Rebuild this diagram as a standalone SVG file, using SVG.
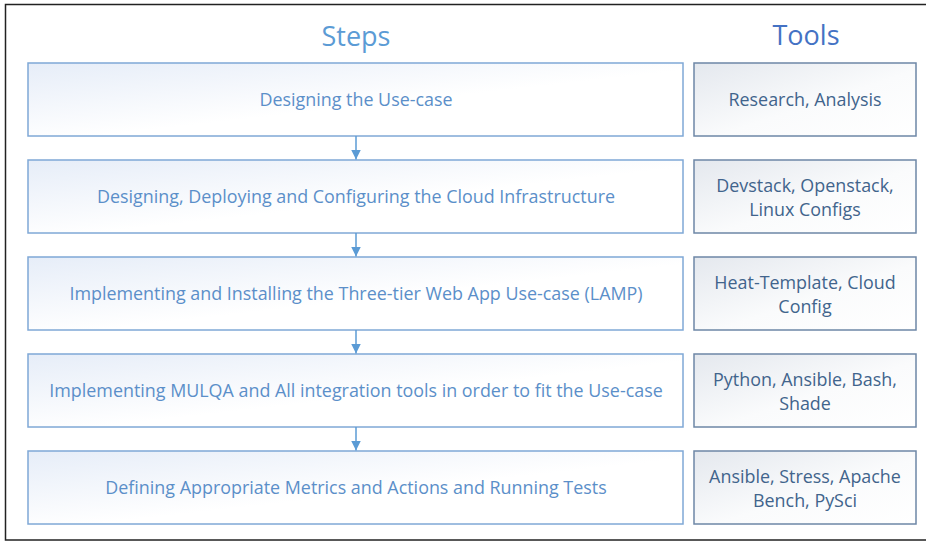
<svg xmlns="http://www.w3.org/2000/svg" width="926" height="542" viewBox="0 0 926 542">
<defs>
<linearGradient id="gStep" x1="0" y1="0" x2="1" y2="1">
<stop offset="0" stop-color="#e6edf8"/>
<stop offset="0.55" stop-color="#ffffff"/>
<stop offset="1" stop-color="#ffffff"/>
</linearGradient>
<linearGradient id="gTool" x1="0" y1="0" x2="1" y2="1">
<stop offset="0" stop-color="#e4e8ee"/>
<stop offset="0.55" stop-color="#fafbfc"/>
<stop offset="1" stop-color="#ffffff"/>
</linearGradient>
<marker id="arr" viewBox="0 0 10 10" refX="10" refY="5" markerWidth="10" markerHeight="10" markerUnits="userSpaceOnUse" orient="auto">
<path d="M0,0 L10,5 L0,10 Z" fill="#5b9bd5"/>
</marker>
<style>
.step{fill:url(#gStep);stroke:#7fa8d6;stroke-width:1.5}
.tool{fill:url(#gTool);stroke:#6d87a6;stroke-width:1.5}
.st{font-family:"Open Sans","Liberation Sans",Arial,sans-serif;font-size:17.9px;fill:#5b8fc9;text-anchor:middle}
.tt{font-family:"Open Sans","Liberation Sans",Arial,sans-serif;font-size:17.9px;fill:#41648c;text-anchor:middle}
.h{font-family:"Open Sans","Liberation Sans",Arial,sans-serif;font-size:27px;text-anchor:middle}
.conn{stroke:#5b9bd5;stroke-width:1.5;fill:none}
</style>
</defs>
<rect x="0" y="0" width="926" height="542" fill="#ffffff"/>
<rect x="5.5" y="4.5" width="930" height="535.5" fill="none" stroke="#222" stroke-width="1.5"/>
<text class="h" x="356" y="46" fill="#5b9bd5">Steps</text>
<text class="h" x="806" y="45" fill="#4472c4">Tools</text>

<g id="step1"><rect class="step" x="28" y="63" width="655" height="73"/><text class="st" x="356" y="106">Designing the Use-case</text></g>
<g id="step2"><rect class="step" x="28" y="160" width="655" height="73"/><text class="st" x="356" y="203">Designing, Deploying and Configuring the Cloud Infrastructure</text></g>
<g id="step3"><rect class="step" x="28" y="257" width="655" height="73"/><text class="st" x="356" y="300">Implementing and Installing the Three-tier Web App Use-case (LAMP)</text></g>
<g id="step4"><rect class="step" x="28" y="354" width="655" height="73"/><text class="st" x="356" y="397">Implementing MULQA and All integration tools in order to fit the Use-case</text></g>
<g id="step5"><rect class="step" x="28" y="451" width="655" height="73"/><text class="st" x="356" y="494">Defining Appropriate Metrics and Actions and Running Tests</text></g>

<g id="tool1"><rect class="tool" x="694" y="63" width="222" height="73"/><text class="tt" x="805" y="106">Research, Analysis</text></g>
<g id="tool2"><rect class="tool" x="694" y="160" width="222" height="73"/><text class="tt" x="805" y="192">Devstack, Openstack,</text><text class="tt" x="805" y="216">Linux Configs</text></g>
<g id="tool3"><rect class="tool" x="694" y="257" width="222" height="73"/><text class="tt" x="805" y="289">Heat-Template, Cloud</text><text class="tt" x="805" y="313">Config</text></g>
<g id="tool4"><rect class="tool" x="694" y="354" width="222" height="73"/><text class="tt" x="805" y="386">Python, Ansible, Bash,</text><text class="tt" x="805" y="410">Shade</text></g>
<g id="tool5"><rect class="tool" x="694" y="451" width="222" height="73"/><text class="tt" x="805" y="483">Ansible, Stress, Apache</text><text class="tt" x="805" y="507">Bench, PySci</text></g>

<g id="connectors">
<line class="conn" x1="356" y1="136" x2="356" y2="159.5" marker-end="url(#arr)"/>
<line class="conn" x1="356" y1="233" x2="356" y2="256.5" marker-end="url(#arr)"/>
<line class="conn" x1="356" y1="330" x2="356" y2="353.5" marker-end="url(#arr)"/>
<line class="conn" x1="356" y1="427" x2="356" y2="450.5" marker-end="url(#arr)"/>
</g>
</svg>
